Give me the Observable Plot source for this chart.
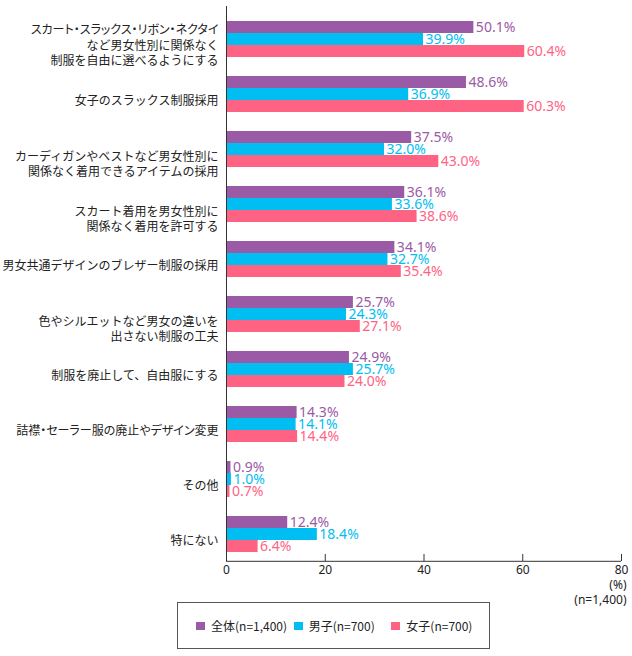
<!DOCTYPE html>
<html>
<head>
<meta charset="utf-8">
<script src="https://cdn.jsdelivr.net/npm/d3@7"></script>
<script src="https://cdn.jsdelivr.net/npm/@observablehq/plot@0.6"></script>
<style>
  body { margin: 0; background: #fff; font-family: "Noto Sans CJK JP", sans-serif; }
  #legend {
    box-sizing: border-box;
    margin: -8px 0 0 177px;
    width: 313px;
    height: 47px;
    border: 1px solid #555;
    display: flex;
    align-items: center;
    padding-left: 18px;
    position: relative;
  }
  #legend .item { width: 101px; display: flex; align-items: center; font-size: 12px; color: #222; white-space: nowrap; }
  #legend .sw { width: 9px; height: 8px; margin-right: 6px; flex: none; }
</style>
</head>
<body>
<div id="chart"></div>
<div id="legend"></div>
<script>
// Survey answers (multiple choice), line breaks as printed in the labels
const categories = [
  "スカート・スラックス・リボン・ネクタイ\nなど男女性別に関係なく\n制服を自由に選べるようにする",
  "女子のスラックス制服採用",
  "カーディガンやベストなど男女性別に\n関係なく着用できるアイテムの採用",
  "スカート着用を男女性別に\n関係なく着用を許可する",
  "男女共通デザインのブレザー制服の採用",
  "色やシルエットなど男女の違いを\n出さない制服の工夫",
  "制服を廃止して、自由服にする",
  "詰襟・セーラー服の廃止やデザイン変更",
  "その他",
  "特にない"
];

const seriesNames = ["全体", "男子", "女子"];
const seriesLegend = ["全体(n=1,400)", "男子(n=700)", "女子(n=700)"];
const seriesColors = ["#9B5AA5", "#00BEF2", "#FF6384"];

// Percentages per group
const overall = [50.1, 48.6, 37.5, 36.1, 34.1, 25.7, 24.9, 14.3, 0.9, 12.4];
const boys    = [39.9, 36.9, 32.0, 33.6, 32.7, 24.3, 25.7, 14.1, 1.0, 18.4];
const girls   = [60.4, 60.3, 43.0, 38.6, 35.4, 27.1, 24.0, 14.4, 0.7, 6.4];

const xTicks = [0, 20, 40, 60, 80];
const unitNote = "(%)";
const sampleNote = "(n=1,400)";

const rows = categories.flatMap((c, i) =>
  [overall, boys, girls].map((vals, k) => ({category: c, series: seriesNames[k], value: vals[i]}))
);
const lineCount = (c) => c.split("\n").length;
const lastCategory = categories[categories.length - 1];
const lastSeries = seriesNames[seriesNames.length - 1];

const labelFont = "'Noto Sans CJK JP', sans-serif";
const numberFont = "'Noto Sans', 'Noto Sans CJK JP', sans-serif";

const chart = Plot.plot({
  width: 632,
  height: 610,
  marginTop: 10,
  marginBottom: 48,
  marginLeft: 226,
  marginRight: 11,
  style: {fontFamily: labelFont, background: "white", color: "#222"},
  x: {domain: [0, 80]},
  y: {domain: seriesNames, paddingInner: 0, paddingOuter: 0.656, axis: null},
  fy: {domain: categories, padding: 0, axis: null},
  color: {domain: seriesNames, range: seriesColors},
  marks: [
    Plot.barX(rows, {fy: "category", y: "series", x: "value", fill: "series"}),
    Plot.text(rows, {
      fy: "category", y: "series", x: "value",
      text: (d) => d.value.toFixed(1) + "%",
      fill: "series", textAnchor: "start", dx: 2,
      fontSize: 14, fontFamily: numberFont
    }),
    // category axis line
    Plot.ruleX([0], {stroke: "#333", insetTop: -5}),
    // value axis line, just below the lowest group
    Plot.ruleY([lastCategory], {fy: (d) => d, y: () => lastSeries, x1: 0, x2: 80, dy: 14.8, stroke: "#333"}),
    // category labels (two-line labels hang a little lower)
    Plot.text(categories.filter((c) => lineCount(c) !== 2), {
      fy: (d) => d, text: (d) => d, frameAnchor: "left", textAnchor: "end",
      dx: -8, dy: 5.5, fontSize: 12, lineHeight: 1.3, fill: "#222"
    }),
    Plot.text(categories.filter((c) => lineCount(c) === 2), {
      fy: (d) => d, text: (d) => d, frameAnchor: "left", textAnchor: "end",
      dx: -8, dy: 14.5, fontSize: 12, lineHeight: 1.3, fill: "#222"
    }),
    // value axis: labels, then inward ticks
    Plot.axisX({ticks: xTicks, tickSize: 0, tickPadding: 4, label: null,
      fontSize: 12, fill: "#222", fontFamily: numberFont}),
    Plot.axisX({ticks: xTicks.slice(1), tickSize: 7, dy: -7, fill: "none", label: null, stroke: "#333"}),
    Plot.text([lastCategory], {fy: (d) => d, frameAnchor: "bottom-right", text: () => unitNote,
      textAnchor: "end", dx: 5, dy: 27, fontSize: 12, fill: "#222", fontFamily: numberFont}),
    Plot.text([lastCategory], {fy: (d) => d, frameAnchor: "bottom-right", text: () => sampleNote,
      textAnchor: "end", dx: 5, dy: 42.5, fontSize: 12, fill: "#222", fontFamily: numberFont})
  ]
});

// proportional spacing for lines set with middle dots
d3.select(chart).selectAll("text, tspan")
  .filter(function () { return this.children.length === 0 && this.textContent.includes("・"); })
  .style("font-feature-settings", '"palt"');

document.getElementById("chart").append(chart);

const legend = d3.select("#legend");
const items = legend.selectAll("div.item").data(seriesLegend).join("div").attr("class", "item");
items.append("span").attr("class", "sw").style("background", (d, i) => seriesColors[i]);
items.append("span").text((d) => d);
</script>
</body>
</html>
